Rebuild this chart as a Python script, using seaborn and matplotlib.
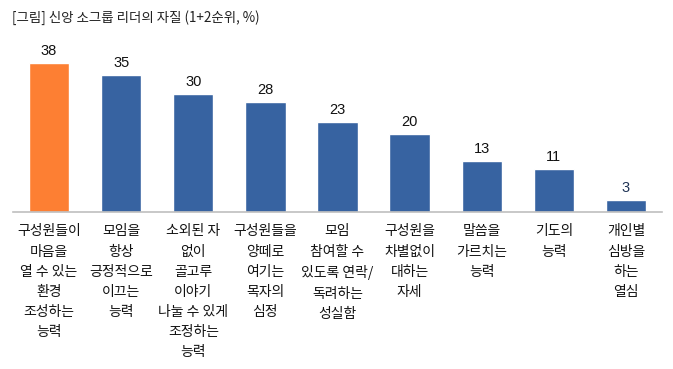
import matplotlib
matplotlib.use("Agg")
import matplotlib.pyplot as plt
import seaborn as sns
import pandas as pd

categories = [
    "구성원들이\n마음을\n열 수 있는\n환경\n조성하는\n능력",
    "모임을\n항상\n긍정적으로\n이끄는\n능력",
    "소외된 자\n없이\n골고루\n이야기\n나눌 수 있게\n조정하는\n능력",
    "구성원들을\n양떼로\n여기는\n목자의\n심정",
    "모임\n참여할 수\n있도록 연락/\n독려하는\n성실함",
    "구성원을\n차별없이\n대하는\n자세",
    "말씀을\n가르치는\n능력",
    "기도의\n능력",
    "개인별\n심방을\n하는\n열심",
]
values = [38, 35, 30, 28, 23, 20, 13, 11, 3]
highlight = ["top", "rest", "rest", "rest", "rest", "rest", "rest", "rest", "rest"]
title = "[그림] 신앙 소그룹 리더의 자질 (1+2순위, %)"

sns.set_theme(style="white")
plt.rcParams["font.family"] = ["Noto Sans CJK KR", "DejaVu Sans"]

df = pd.DataFrame({"cat": categories, "val": values, "grp": highlight})

fig = plt.figure(figsize=(6.73, 3.69), dpi=100)
ax = fig.add_axes([13 / 673, 1 - 212 / 369, 649 / 673, (212 - 55.2) / 369])

sns.barplot(data=df, x="cat", y="val", hue="grp",
            palette={"top": "#FD7F33", "rest": "#3763A1"},
            dodge=False, width=0.56, legend=False, ax=ax, saturation=1)

ax.set_ylim(0, 40)
ax.set_xlim(-0.5, len(values) - 0.5)
ax.set_yticks([])
ax.set_xlabel("")
ax.set_ylabel("")
for s in ["top", "right", "left"]:
    ax.spines[s].set_visible(False)
ax.spines["bottom"].set_color("#BFBFBF")
ax.spines["bottom"].set_linewidth(1.2)

ax.tick_params(axis="x", length=0, pad=9)
ax.set_xticks(range(len(categories)))
ax.set_xticklabels(categories, fontsize=10, linespacing=1.56, color="#111111", va="top")

for i, v in enumerate(values):
    col = "#1F3355" if i == len(values) - 1 else "#111111"
    ax.text(i, v + 1.3, str(v), ha="center", va="bottom", fontsize=10.5,
            color=col, family=["Liberation Sans", "DejaVu Sans"])

fig.text(12 / 673, 1 - 18 / 369, title, ha="left", va="center", fontsize=9.7, color="#222222")

fig.savefig("out.png", dpi=100)
